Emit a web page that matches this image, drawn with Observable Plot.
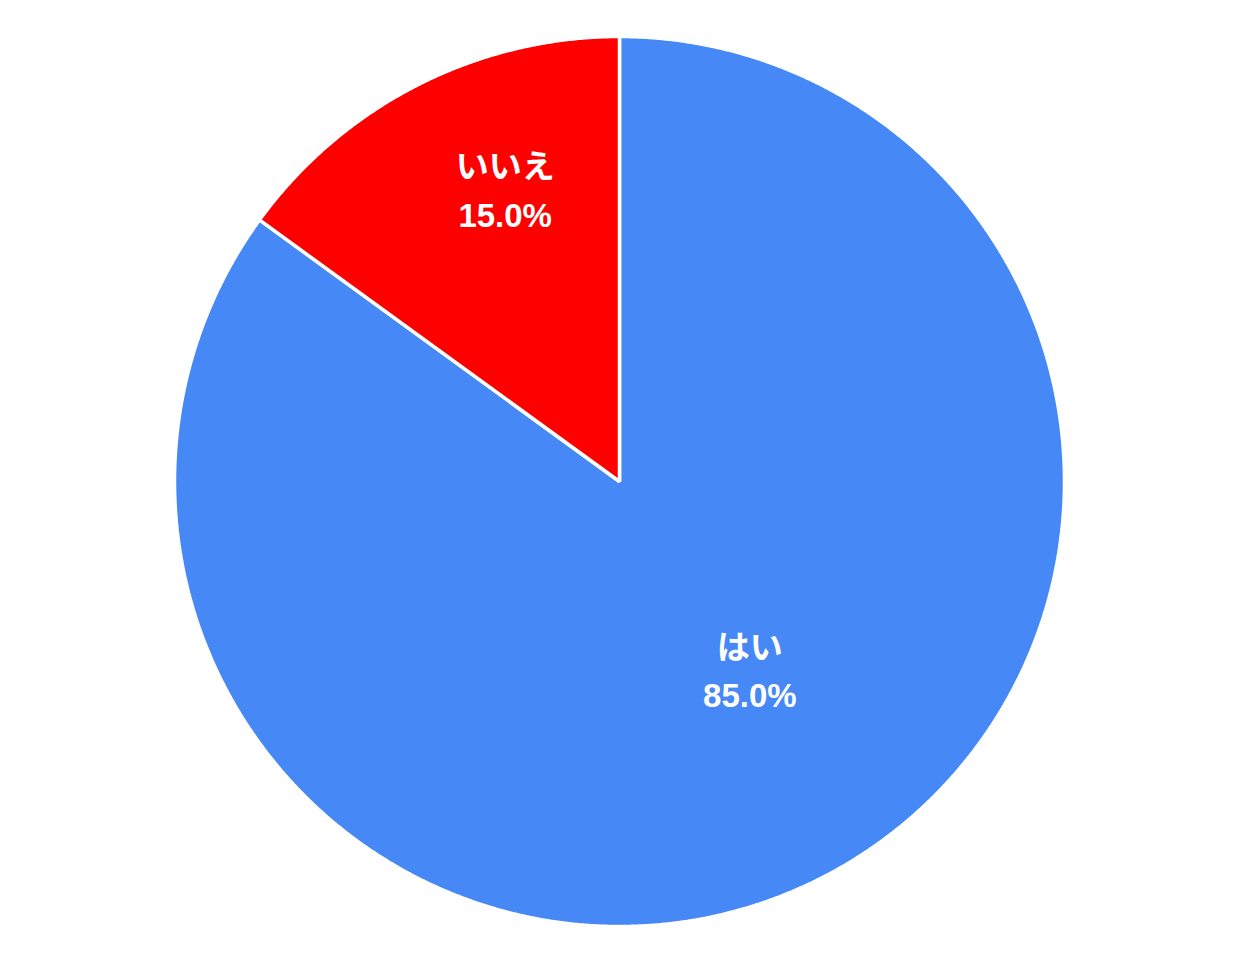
<!DOCTYPE html>
<html>
<head>
<meta charset="utf-8">
<script src="https://cdn.jsdelivr.net/npm/d3@7"></script>
<script src="https://cdn.jsdelivr.net/npm/@observablehq/plot@0.6"></script>
<style>
  html, body { margin: 0; padding: 0; background: #ffffff; }
  #chart svg { display: block; }
</style>
</head>
<body>
<div id="chart"></div>
<script>
const categories = ["はい", "いいえ"];
const values = [85, 15];
const colors = ["#4688F5", "#FF0000"];

const total = d3.sum(values);
const pie = d3.pie().sort(null).value((d) => d.value)(
  categories.map((c, i) => ({ category: c, value: values[i] }))
);

// slice outlines (unit circle coordinates)
const arcPoints = [];
for (const s of pie) {
  arcPoints.push({ category: s.data.category, x: 0, y: 0 });
  const n = Math.max(2, Math.ceil((s.endAngle - s.startAngle) / (Math.PI / 720)));
  for (let k = 0; k <= n; k++) {
    const a = s.startAngle + (s.endAngle - s.startAngle) * (k / n);
    arcPoints.push({ category: s.data.category, x: Math.sin(a), y: Math.cos(a) });
  }
}

// labels
const labels = pie.map((s) => {
  const f = s.data.value / total;
  const mid = (s.startAngle + s.endAngle) / 2;
  const r = 0.464 + 0.283 * (1 - f);
  return {
    category: s.data.category,
    x: r * Math.sin(mid),
    y: r * Math.cos(mid),
    text: s.data.category + "\n" + (f * 100).toFixed(1) + "%"
  };
});

const chart = Plot.plot({
  width: 1242,
  height: 967,
  margin: 0,
  x: { domain: [-1, 1], range: [174, 1064], axis: null },
  y: { domain: [-1, 1], range: [926, 36], axis: null },
  color: { domain: categories, range: colors },
  style: { background: "#ffffff" },
  marks: [
    Plot.line(arcPoints, {
      x: "x", y: "y", z: "category",
      fill: "category",
      stroke: "#ffffff",
      strokeWidth: 3.5,
      strokeLinejoin: "miter",
      curve: "linear-closed"
    }),
    Plot.text(labels, {
      x: "x", y: "y", text: "text",
      dx: 28, dy: -15,
      fill: "#ffffff",
      fontSize: 33,
      fontWeight: "bold",
      lineHeight: 1.48,
      fontFamily: "'Liberation Sans', Arial, 'Noto Sans CJK JP', sans-serif"
    })
  ]
});
document.getElementById("chart").appendChild(chart);
</script>
</body>
</html>
